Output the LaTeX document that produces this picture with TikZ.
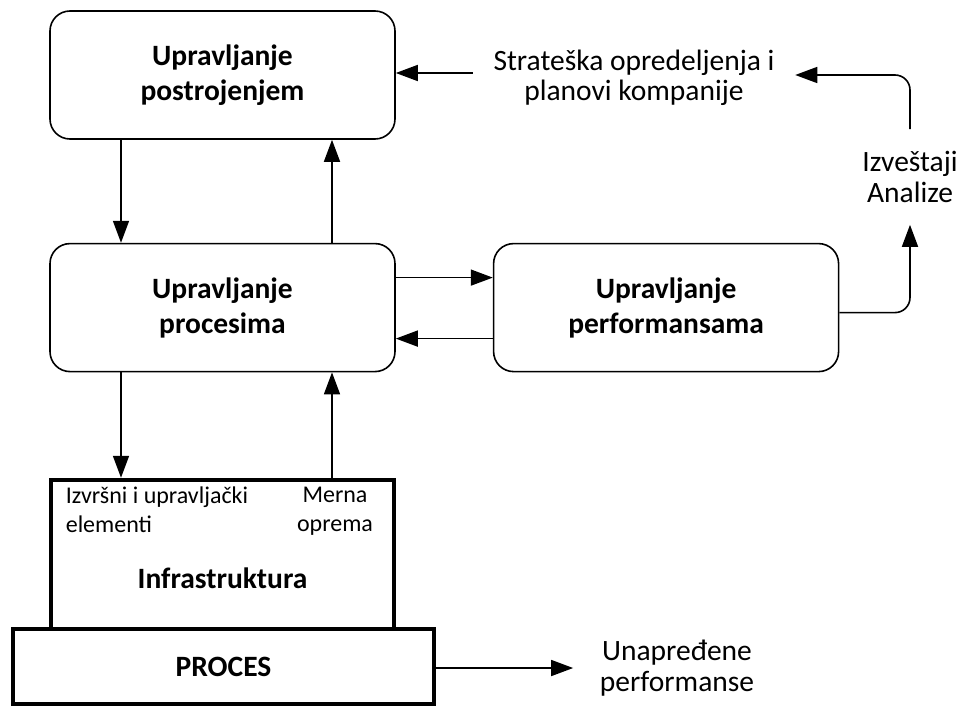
\documentclass[tikz,border=0pt]{standalone}
\usepackage{fontspec}
\setmainfont{Carlito}
\usetikzlibrary{arrows.meta,positioning}

\begin{document}
\begin{tikzpicture}[
            x = 1pt, y = -1pt, % pixel grid of the page
            > = {Triangle[length=22pt,width=16pt]}, % arrow head style
            line width = 1.6pt, % line style
            node distance = 105pt, % distance between boxes
            box/.style = {draw, rounded corners = 20pt, minimum width = 345pt,
                minimum height = 128pt, align = center,
                font = \fontsize{29.5}{35}\selectfont\bfseries},
            heavy/.style = {draw, line width = 4.5pt, align = center,
                font = \fontsize{29.5}{34}\selectfont\bfseries},
            txt/.style = {align = center, font = \fontsize{29.5}{30.5}\selectfont},
            small/.style = {inner sep = 0pt, font = \fontsize{24}{29}\selectfont}
        ]

        \useasboundingbox (0,0) rectangle (962,709);

        % the three control boxes
        \node[box] (upr) at (222.5,75) {Upravljanje\\postrojenjem};
        \node[box] (proc) [below=103pt of upr] {Upravljanje\\procesima};
        \node[box] (perf) [right=97pt of proc] {Upravljanje\\performansama};

        % infrastructure on top of the process
        \node[heavy, minimum width = 343pt, minimum height = 149pt] (infra) at (222.5,554.5) {};
        \node[heavy, minimum width = 421pt, minimum height = 75pt] (pr) at (223.5,666.5) {PROCES};
        \node[small, anchor = north west, align = left] (izv) at (65,486) {Izvršni i upravljački\\elementi};
        \node[small, anchor = north, align = center] (mer) at (335,486) {Merna\\oprema};
        \node[font = \fontsize{29.5}{34}\selectfont\bfseries, anchor = base] (inf) at (222.5,588) {Infrastruktura};

        % free texts
        \node[txt, inner xsep = 20pt] (strat) at (634,78) {Strateška opredeljenja i\\planovi kompanije};
        \node[txt, inner sep = 0pt, minimum height = 94pt] (rep) at (910,177) {Izveštaji\\Analize};
        \node[txt, inner xsep = 26pt] (unap) at (677,668) {Unapređene\\performanse};

        \draw[->] ([xshift=-101.5pt]upr.south) -- ([xshift=-101.5pt]proc.north);
        \draw[->] ([xshift=109.5pt]proc.north) -- ([xshift=109.5pt]upr.south);
        \draw[->] ([xshift=-101.5pt]proc.south) -- ([xshift=-101.5pt]infra.north);
        \draw[->] ([xshift=109.5pt]infra.north) -- ([xshift=109.5pt]proc.south);
        \draw[->] ([yshift=30pt]proc.east) -- ([yshift=30pt]perf.west);
        \draw[->] ([yshift=-31pt]perf.west) -- ([yshift=-31pt]proc.east);
        \draw[->] ([yshift=5pt]strat.west) -- ([yshift=5pt]strat.west -| upr.east);
        \draw[->, rounded corners = 15pt] ([yshift=-5pt]perf.east) -| (rep.south);
        \draw[->, rounded corners = 15pt] (rep.north) |- ([yshift=3pt]strat.east);
        \draw[->] (pr.east |- unap.west) -- (unap.west);
    \end{tikzpicture}
\end{document}
